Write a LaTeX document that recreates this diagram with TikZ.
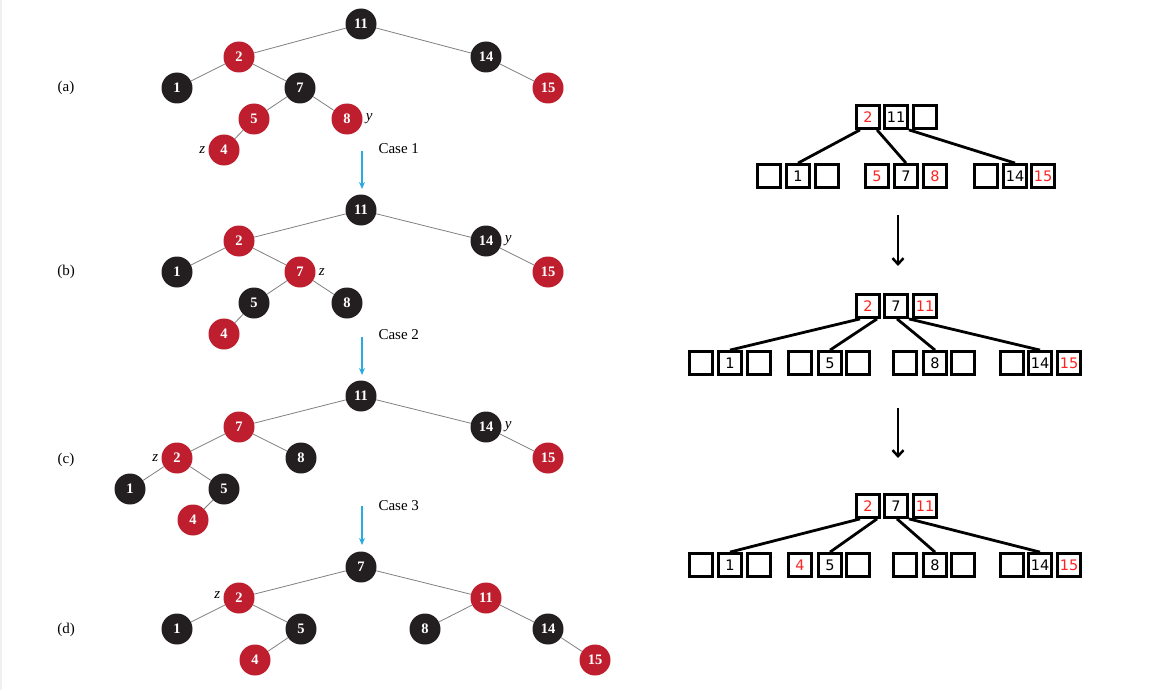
\documentclass[tikz,border=0pt]{standalone}
\usepackage{fontspec}
\setmainfont{Liberation Serif}
\newfontfamily\keyfont{DejaVu Sans}
\usetikzlibrary{positioning, arrows.meta}
\definecolor{rbred}{RGB}{190,30,45}
\definecolor{rbblack}{RGB}{35,31,32}
\definecolor{keyred}{RGB}{255,35,35}
\definecolor{casecyan}{RGB}{41,171,226}
\tikzstyle{bn} = [circle, fill=rbblack, text=white, minimum size=31pt, inner sep=0pt, font=\fontsize{14.5}{14.5}\selectfont\bfseries]
\tikzstyle{rn} = [bn, fill=rbred]
\tikzstyle{link} = [draw=gray, line width=0.8pt]
\tikzstyle{lbl} = [font=\fontsize{15}{15}\selectfont]
\tikzstyle{ptr} = [font=\fontsize{15}{15}\selectfont\itshape, inner sep=1pt]
\tikzstyle{casearrow} = [casecyan, line width=1.1pt, -{Stealth[length=7pt,width=6pt]}]
\tikzstyle{kbox} = [draw, line width=2.8pt, minimum size=23pt, inner sep=0pt, font=\fontsize{14.5}{14.5}\keyfont]
\tikzstyle{rkbox} = [kbox, text=keyred]
\tikzstyle{bedge} = [line width=2.8pt]
\tikzstyle{arrow} = [line width=2.5pt, -{Straight Barb[length=6pt,width=11pt]}]

\begin{document}
\begin{tikzpicture}[x=1pt, y=-1pt]
  \useasboundingbox (0,0) rectangle (1155,690);
  \fill[gray!12] (0,0) rectangle (2,690);

  % (a)
  \node[lbl] (la) at (66,88) {(a)};
  \node[bn] (a11) at (361,24) {11};
  \node[rn] (a2) at (239,57) {2};
  \node[bn] (a14) at (486,57) {14};
  \node[bn] (a1) at (177,88) {1};
  \node[bn] (a7) at (300,88) {7};
  \node[rn] (a15) at (548,88) {15};
  \node[rn] (a5) at (254,119) {5};
  \node[rn] (a8) at (347,119) {8};
  \node[rn] (a4) at (224,150) {4};
  \node[ptr, right=2pt of a8] (ay) {y};
  \node[ptr, left=2pt of a4] (az) {z};
  \draw[link] (a11) -- (a2);
  \draw[link] (a11) -- (a14);
  \draw[link] (a2) -- (a1);
  \draw[link] (a2) -- (a7);
  \draw[link] (a14) -- (a15);
  \draw[link] (a7) -- (a5);
  \draw[link] (a7) -- (a8);
  \draw[link] (a5) -- (a4);

  \coordinate (c1s) at (362,151);
  \coordinate (c1e) at (362,189);
  \draw[casearrow] (c1s) -- (c1e);
  \node[lbl, anchor=west] (case1) at (375,149) {Case 1};

  % (b)
  \node[lbl] (lb) at (66,272) {(b)};
  \node[bn] (b11) at (361,210) {11};
  \node[rn] (b2) at (239,241) {2};
  \node[bn] (b14) at (486,241) {14};
  \node[bn] (b1) at (177,272) {1};
  \node[rn] (b7) at (300,272) {7};
  \node[rn] (b15) at (548,272) {15};
  \node[bn] (b5) at (254,303) {5};
  \node[bn] (b8) at (347,303) {8};
  \node[rn] (b4) at (224,334) {4};
  \node[ptr, right=2pt of b14] (by) {y};
  \node[ptr, right=2pt of b7] (bz) {z};
  \draw[link] (b11) -- (b2);
  \draw[link] (b11) -- (b14);
  \draw[link] (b2) -- (b1);
  \draw[link] (b2) -- (b7);
  \draw[link] (b14) -- (b15);
  \draw[link] (b7) -- (b5);
  \draw[link] (b7) -- (b8);
  \draw[link] (b5) -- (b4);

  \coordinate (c2s) at (362,337);
  \coordinate (c2e) at (362,375);
  \draw[casearrow] (c2s) -- (c2e);
  \node[lbl, anchor=west] (case2) at (375,335) {Case 2};

  % (c)
  \node[lbl] (lc) at (66,460) {(c)};
  \node[bn] (c11) at (361,396) {11};
  \node[rn] (c7) at (239,427) {7};
  \node[bn] (c14) at (486,427) {14};
  \node[rn] (c2) at (177,458) {2};
  \node[bn] (c8) at (301,458) {8};
  \node[rn] (c15) at (548,458) {15};
  \node[bn] (c1) at (130,489) {1};
  \node[bn] (c5) at (224,489) {5};
  \node[rn] (c4) at (193,520) {4};
  \node[ptr, right=2pt of c14] (cy) {y};
  \node[ptr, left=2pt of c2] (cz) {z};
  \draw[link] (c11) -- (c7);
  \draw[link] (c11) -- (c14);
  \draw[link] (c7) -- (c2);
  \draw[link] (c7) -- (c8);
  \draw[link] (c14) -- (c15);
  \draw[link] (c2) -- (c1);
  \draw[link] (c2) -- (c5);
  \draw[link] (c5) -- (c4);

  \coordinate (c3s) at (362,506);
  \coordinate (c3e) at (362,545);
  \draw[casearrow] (c3s) -- (c3e);
  \node[lbl, anchor=west] (case3) at (375,506) {Case 3};

  % (d)
  \node[lbl] (ld) at (66,630) {(d)};
  \node[bn] (d7) at (361,567) {7};
  \node[rn] (d2) at (239,598) {2};
  \node[rn] (d11) at (486,598) {11};
  \node[bn] (d1) at (177,629) {1};
  \node[bn] (d5) at (301,629) {5};
  \node[bn] (d8) at (425,629) {8};
  \node[bn] (d14) at (548,629) {14};
  \node[rn] (d4) at (255,660) {4};
  \node[rn] (d15) at (595,660) {15};
  \node[ptr, left=2pt of d2, yshift=3pt] (dz) {z};
  \draw[link] (d7) -- (d2);
  \draw[link] (d7) -- (d11);
  \draw[link] (d2) -- (d1);
  \draw[link] (d2) -- (d5);
  \draw[link] (d5) -- (d4);
  \draw[link] (d11) -- (d8);
  \draw[link] (d11) -- (d14);
  \draw[link] (d14) -- (d15);

  % B-tree 1
  \node[rkbox] (p2) at (868,117) {2};
  \node[kbox] (p11) at (896,117) {11};
  \node[kbox] (p0) at (925,117) {};
  \node[kbox] (q1a) at (769,176) {};
  \node[kbox] (q1) at (798,176) {1};
  \node[kbox] (q1b) at (827,176) {};
  \node[rkbox] (q5) at (877,176) {5};
  \node[kbox] (q7) at (906,176) {7};
  \node[rkbox] (q8) at (935,176) {8};
  \node[kbox] (q14a) at (986,176) {};
  \node[kbox] (q14) at (1015,176) {14};
  \node[rkbox] (q15) at (1043,176) {15};
  \draw[bedge] ([xshift=-8pt]p2.south) -- (q1.north);
  \draw[bedge] ([xshift=9pt]p2.south) -- (q7.north);
  \draw[bedge] ([xshift=13pt]p11.south) -- (q14.north);

  \coordinate (d1s) at (898,215);
  \coordinate (d1e) at (898,266);
  \draw[arrow] (d1s) -- (d1e);

  % B-tree 2
  \node[rkbox] (r2) at (868,306) {2};
  \node[kbox] (r7) at (896,306) {7};
  \node[rkbox] (r11) at (925,306) {11};
  \node[kbox] (s1a) at (701,363) {};
  \node[kbox] (s1) at (730,363) {1};
  \node[kbox] (s1b) at (759,363) {};
  \node[kbox] (s5a) at (800,363) {};
  \node[kbox] (s5) at (830,363) {5};
  \node[kbox] (s5b) at (858,363) {};
  \node[kbox] (s8a) at (905,363) {};
  \node[kbox] (s8) at (935,363) {8};
  \node[kbox] (s8b) at (963,363) {};
  \node[kbox] (s14a) at (1012,363) {};
  \node[kbox] (s14) at (1040,363) {14};
  \node[rkbox] (s15) at (1069,363) {15};
  \draw[bedge] ([xshift=-8pt]r2.south) -- (s1.north);
  \draw[bedge] ([xshift=9pt]r2.south) -- (s5.north);
  \draw[bedge] ([xshift=1pt]r7.south) -- (s8.north);
  \draw[bedge] ([xshift=13pt]r7.south) -- (s14.north);

  \coordinate (d2s) at (898,408);
  \coordinate (d2e) at (898,458);
  \draw[arrow] (d2s) -- (d2e);

  % B-tree 3
  \node[rkbox] (t2) at (868,506) {2};
  \node[kbox] (t7) at (896,506) {7};
  \node[rkbox] (t11) at (925,506) {11};
  \node[kbox] (u1a) at (701,565) {};
  \node[kbox] (u1) at (730,565) {1};
  \node[kbox] (u1b) at (759,565) {};
  \node[rkbox] (u4) at (800,565) {4};
  \node[kbox] (u5) at (830,565) {5};
  \node[kbox] (u5b) at (858,565) {};
  \node[kbox] (u8a) at (905,565) {};
  \node[kbox] (u8) at (935,565) {8};
  \node[kbox] (u8b) at (963,565) {};
  \node[kbox] (u14a) at (1012,565) {};
  \node[kbox] (u14) at (1040,565) {14};
  \node[rkbox] (u15) at (1069,565) {15};
  \draw[bedge] ([xshift=-8pt]t2.south) -- (u1.north);
  \draw[bedge] ([xshift=9pt]t2.south) -- (u5.north);
  \draw[bedge] ([xshift=1pt]t7.south) -- (u8.north);
  \draw[bedge] ([xshift=13pt]t7.south) -- (u14.north);
\end{tikzpicture}
\end{document}
